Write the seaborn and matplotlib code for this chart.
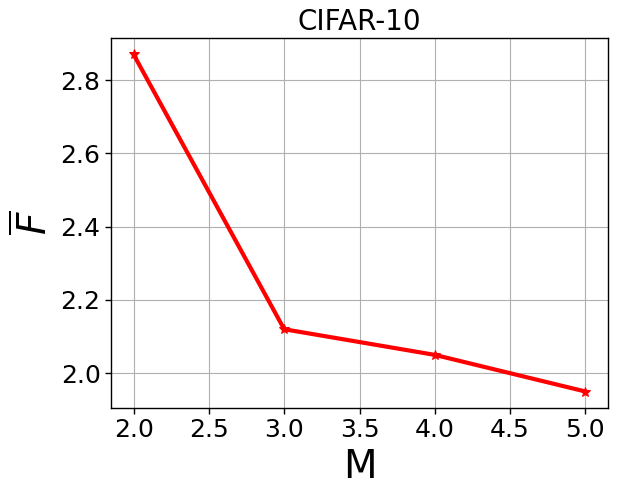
import matplotlib
matplotlib.use("Agg")
import matplotlib.pyplot as plt
import seaborn as sns
import pandas as pd

M = [2, 3, 4, 5]
F_bar = [2.87, 2.12, 2.05, 1.95]
title = "CIFAR-10"

sns.set_style("ticks")
plt.rcParams['font.family'] = ['DejaVu Sans']
plt.rcParams['text.color'] = 'black'
plt.rcParams['axes.labelcolor'] = 'black'
plt.rcParams['xtick.color'] = 'black'
plt.rcParams['ytick.color'] = 'black'

df = pd.DataFrame({"M": M, "F": F_bar})
fig = plt.figure(figsize=(6.17, 4.99), dpi=100)
ax = fig.add_axes([111/617, 1-408/499, 497/617, 370/499])
sns.lineplot(data=df, x="M", y="F", ax=ax, color="red", linewidth=3,
             marker="*", markersize=7, markeredgecolor="red")
ax.grid(True, color="#b0b0b0", linewidth=0.8)
ax.set_axisbelow(True)
for s in ax.spines.values():
    s.set_color("black")
    s.set_linewidth(1.0)
ax.tick_params(labelsize=18, length=4, width=1, direction="out", colors="black")
ax.set_xticks([2.0, 2.5, 3.0, 3.5, 4.0, 4.5, 5.0])
ax.set_yticks([2.0, 2.2, 2.4, 2.6, 2.8])
ax.set_xlim(1.85, 5.15)
ax.set_ylim(1.905, 2.915)
ax.set_xlabel("M", fontsize=28, color="black")
ax.set_ylabel(r"$\overline{F}$", fontsize=28, color="black")
ax.set_title(title, fontsize=20, color="black")
fig.savefig("out.png", dpi=100)
